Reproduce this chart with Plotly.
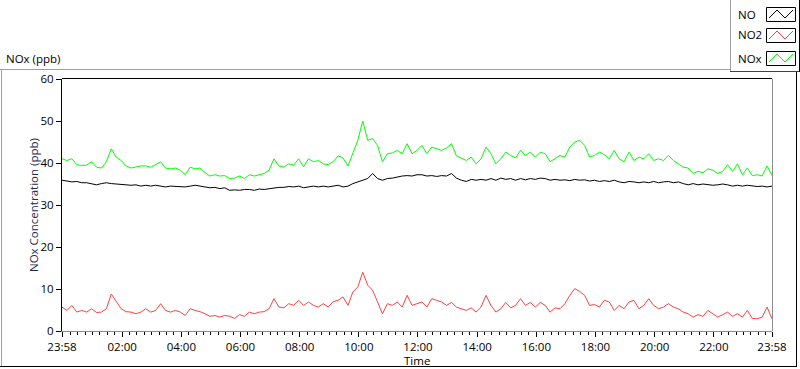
import pandas as pd
import plotly.graph_objects as go

# ---- data (one reading every 10 minutes) ----
start_time = "2024-01-01 23:58"
step_minutes = 10

nox = [41.0, 40.6, 41.0, 39.6, 39.4, 39.5, 40.3, 39.0, 38.8, 40.3,
       43.4, 41.4, 40.6, 39.3, 38.8, 39.0, 39.3, 39.3, 39.0, 39.6,
       40.3, 38.8, 38.6, 38.8, 38.3, 37.2, 39.0, 38.6, 38.8, 37.7,
       36.9, 37.2, 36.9, 37.0, 36.3, 36.4, 36.9, 36.3, 37.2, 36.9,
       37.2, 37.5, 38.3, 41.0, 39.3, 39.0, 39.8, 39.5, 41.0, 39.1,
       41.0, 40.3, 40.6, 39.8, 39.6, 40.3, 41.7, 41.2, 39.3, 42.2,
       45.4, 50.0, 45.4, 45.8, 44.2, 40.3, 42.2, 42.4, 43.0, 42.2,
       44.6, 42.2, 43.0, 44.2, 42.2, 43.8, 43.4, 43.0, 43.6, 44.6,
       41.7, 41.1, 40.6, 41.4, 39.8, 41.0, 43.8, 42.2, 39.8, 41.0,
       42.6, 41.8, 41.2, 43.0, 41.8, 42.6, 41.4, 42.6, 42.2, 40.3,
       41.0, 41.8, 41.4, 43.8, 45.0, 45.4, 44.2, 41.4, 41.8, 42.6,
       42.0, 41.0, 43.0, 41.0, 40.3, 42.6, 40.6, 41.4, 41.0, 42.2,
       40.6, 41.0, 40.6, 41.8, 40.6, 39.8, 39.0, 38.8, 37.5, 38.0,
       37.7, 38.6, 38.3, 37.5, 38.0, 39.6, 38.0, 39.8, 37.2, 38.8,
       37.0, 37.2, 36.9, 39.3, 37.0]

no = [35.9, 35.7, 35.5, 35.6, 35.3, 35.3, 35.1, 34.8, 35.1, 35.3,
      35.1, 35.0, 34.8, 34.8, 34.7, 34.8, 34.5, 34.7, 34.5, 34.7,
      34.5, 34.3, 34.5, 34.4, 34.3, 34.3, 34.5, 34.7, 34.5, 34.3,
      34.1, 34.2, 33.9, 34.1, 33.5, 33.6, 33.5, 33.7, 33.7, 33.5,
      33.8, 33.7, 33.9, 34.1, 34.2, 34.2, 34.4, 34.3, 34.5, 34.1,
      34.3, 34.5, 34.3, 34.5, 34.3, 34.5, 34.7, 34.3, 34.5, 35.1,
      35.5, 35.9, 36.3, 37.5, 36.3, 35.9, 36.3, 36.4, 36.7, 36.9,
      37.0, 36.9, 37.2, 37.2, 36.9, 37.0, 36.8, 37.0, 36.9, 37.5,
      36.4, 35.9, 35.6, 36.1, 35.9, 36.1, 35.9, 36.3, 35.9, 36.4,
      36.1, 36.3, 35.9, 36.3, 36.0, 36.3, 36.1, 36.4, 36.3, 35.9,
      36.1, 35.9, 36.0, 35.8, 36.1, 35.9, 36.0, 35.7, 35.9, 35.6,
      35.8, 35.6, 35.9, 35.5, 35.3, 35.6, 35.5, 35.3, 35.5, 35.3,
      35.6, 35.3, 35.5, 35.6, 35.3, 35.5, 35.1, 34.8, 35.1, 34.8,
      35.0, 34.8, 34.7, 34.8, 35.0, 34.8, 34.5, 34.7, 34.5, 34.7,
      34.5, 34.4, 34.5, 34.3, 34.5]

no2 = [5.7, 4.9, 6.1, 4.5, 4.9, 4.5, 5.3, 4.4, 4.5, 5.3,
       8.8, 7.2, 5.3, 4.6, 4.5, 4.1, 4.5, 5.3, 4.5, 4.9,
       6.5, 4.9, 4.5, 4.9, 4.5, 3.7, 5.3, 4.9, 4.6, 4.1,
       3.5, 3.7, 3.3, 3.7, 3.5, 3.0, 3.9, 3.5, 4.5, 4.1,
       4.5, 4.6, 5.3, 7.7, 5.7, 5.5, 6.5, 6.1, 7.3, 6.1,
       6.9, 6.1, 5.7, 6.5, 5.7, 7.0, 7.3, 8.1, 6.1, 9.3,
       10.5, 14.0, 10.9, 9.7, 6.9, 4.1, 6.5, 6.1, 6.9, 5.7,
       8.5, 6.1, 6.5, 6.9, 5.7, 7.7, 7.3, 6.9, 6.1, 6.8,
       5.7, 5.3, 4.9, 5.5, 4.5, 5.7, 8.5, 6.1, 4.5, 5.3,
       6.8, 5.5, 6.1, 7.7, 6.1, 6.8, 5.7, 6.8, 6.1, 4.5,
       5.5, 5.3, 6.5, 8.5, 10.1, 9.4, 8.5, 6.1, 6.3, 5.7,
       7.3, 6.9, 4.9, 6.1, 5.3, 6.9, 7.3, 5.3, 6.1, 7.7,
       6.1, 5.3, 5.7, 6.5, 5.7, 5.3, 4.5, 4.1, 3.3, 3.9,
       3.5, 4.9, 4.1, 3.3, 3.9, 4.5, 3.5, 4.1, 3.3, 4.9,
       3.0, 2.9, 3.3, 5.7, 2.9]

series_names = ["NO", "NO2", "NOx"]
series_colors = ["#000000", "#ff4040", "#00ff00"]

tick_labels = ["23:58", "02:00", "04:00", "06:00", "08:00", "10:00", "12:00",
               "14:00", "16:00", "18:00", "20:00", "22:00", "23:58"]
tick_times = ["2024-01-01 23:58", "2024-01-02 02:00", "2024-01-02 04:00",
              "2024-01-02 06:00", "2024-01-02 08:00", "2024-01-02 10:00",
              "2024-01-02 12:00", "2024-01-02 14:00", "2024-01-02 16:00",
              "2024-01-02 18:00", "2024-01-02 20:00", "2024-01-02 22:00",
              "2024-01-02 23:58"]

times = pd.date_range(start=start_time, periods=len(nox), freq=f"{step_minutes}min")

# ---- figure ----
W, H = 800, 369
L, R, T, B = 62, 772, 79, 331  # plot area in pixels


def px(x):
    return (x - L) / (R - L)


def py(y):
    return (B - y) / (B - T)


FONT = "Open Sans"
FS = 11.5

fig = go.Figure()
for vals, col in [(nox, series_colors[2]), (no, series_colors[0]), (no2, series_colors[1])]:
    fig.add_trace(go.Scatter(x=times, y=vals, mode="lines",
                             line=dict(color=col, width=1), showlegend=False,
                             hoverinfo="skip"))

shapes = []


def hline(x0, y0, x1, y1, color, width=1):
    shapes.append(dict(type="line", xref="paper", yref="paper",
                       x0=px(x0), y0=py(y0), x1=px(x1), y1=py(y1),
                       line=dict(color=color, width=width), layer="above"))


# outer panel frame
hline(0, 69.5, 730, 69.5, "#a0a0a0")
hline(1.5, 69.5, 1.5, 367, "#a0a0a0")
hline(0, 366.5, 797, 366.5, "#000000")
hline(796.5, 72, 796.5, 367, "#000000")
# legend box frame
hline(730.5, 0, 730.5, 72, "#a0a0a0")
hline(730, 71.5, 799, 71.5, "#404040")
hline(799.5, 0, 799.5, 72, "#000000")
# plot area frame (top & left dark, bottom & right grey)
hline(L, T - 0.5, R, T - 0.5, "#000000")
hline(R + 0.5, T, R + 0.5, B, "#8c8c8c")

annotations = []
# legend swatches
box_rows = [(7, 21), (28, 42), (51, 65)]
for (y0, y1), name, col in zip(box_rows, series_names, series_colors):
    shapes.append(dict(type="rect", xref="paper", yref="paper",
                       x0=px(766.5), x1=px(795.5), y0=py(y0 + 0.5), y1=py(y1 + 0.5),
                       line=dict(color="#000000", width=1), fillcolor="white"))
    lo, hi = y1 - 3, y0 + 3
    path = (f"M {px(769)},{py(lo)} L {px(777)},{py(hi)} "
            f"L {px(785)},{py(lo)} L {px(793)},{py(hi)}")
    shapes.append(dict(type="path", xref="paper", yref="paper", path=path,
                       line=dict(color=col, width=1)))
    annotations.append(dict(xref="paper", yref="paper", x=px(736), y=py((y0 + y1) / 2),
                            text=name, showarrow=False, xanchor="left", yanchor="middle",
                            font=dict(family=FONT, size=FS, color="#000000")))

annotations.append(dict(xref="paper", yref="paper", x=px(4), y=py(58),
                        text="NOx (ppb)", showarrow=False, xanchor="left",
                        yanchor="middle", font=dict(family=FONT, size=FS, color="#000000")))
annotations.append(dict(xref="paper", yref="paper", x=px(33), y=py(205),
                        text="NOx Concentration (ppb)", showarrow=False, textangle=-90,
                        xanchor="center", yanchor="middle",
                        font=dict(family=FONT, size=FS, color="#1b2a4a")))
annotations.append(dict(xref="paper", yref="paper", x=px(417), y=py(360),
                        text="Time", showarrow=False, xanchor="center", yanchor="middle",
                        font=dict(family=FONT, size=FS, color="#000000")))

fig.update_layout(
    width=W, height=H,
    margin=dict(l=L, r=W - R, t=T, b=H - B, pad=0),
    paper_bgcolor="white", plot_bgcolor="white",
    showlegend=False,
    shapes=shapes, annotations=annotations,
    font=dict(family=FONT, size=FS, color="#000000"),
    xaxis=dict(type="date", range=[tick_times[0], tick_times[-1]],
               tickmode="array", tickvals=tick_times, ticktext=tick_labels,
               ticks="outside", ticklen=5, tickwidth=1, tickcolor="#000000",
               showgrid=False, zeroline=False, showline=True, linecolor="#8c8c8c",
               linewidth=1, tickfont=dict(family=FONT, size=FS, color="#000000"),
               minor=dict(ticks="outside", ticklen=3, tickcolor="#000000",
                          dtick=15 * 60 * 1000, tick0="2024-01-02 00:00",
                          showgrid=False)),
    yaxis=dict(range=[0, 60], tickmode="linear", tick0=0, dtick=10,
               ticks="outside", ticklen=5, tickwidth=1, tickcolor="#000000",
               showgrid=False, zeroline=False, showline=True, linecolor="#000000",
               linewidth=1, tickfont=dict(family=FONT, size=FS, color="#000000")),
)

fig.write_html("out.html",
               config={"displayModeBar": False, "staticPlot": True},
               post_script="document.body.style.margin='0';document.body.style.overflow='hidden';")
